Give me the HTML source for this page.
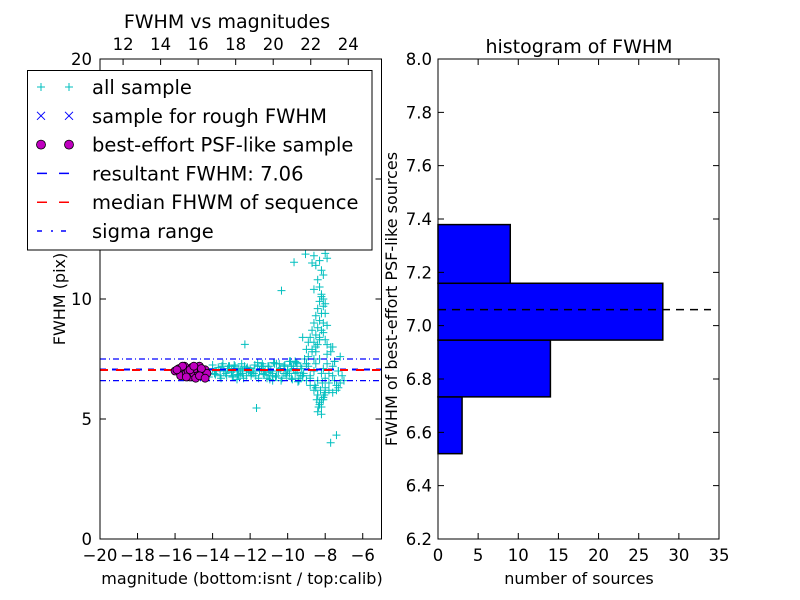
<!DOCTYPE html>
<html><head><meta charset="utf-8"><style>
html,body{margin:0;padding:0;background:#fff}
svg{display:block;font-family:"DejaVu Sans","Liberation Sans",sans-serif}
</style></head><body>
<svg id="fig" width="800" height="600" viewBox="0 0 800 600">
<rect width="800" height="600" fill="#fff"/>
<g id="left"></g>
<g id="right"></g>
<g id="legend"></g>
</svg>
<script>
const NS="http://www.w3.org/2000/svg";
// ---- data ----
const magAll=[-15.8,-15.5,-15.2,-15.0,-14.8,-14.6,-14.4,-14.2,-14.0,-13.8,-13.6,-13.5,-13.4,-13.3,-13.2,-13.0,-12.9,-12.8,-12.7,-12.6,-12.5,-12.4,-12.3,-12.2,-12.1,-12.0,-11.9,-11.8,-11.7,-11.6,-11.5,-11.4,-11.3,-11.2,-11.1,-11.0,-10.9,-10.8,-10.7,-10.6,-10.5,-10.4,-10.3,-10.2,-10.1,-10.0,-9.9,-9.8,-9.7,-9.6,-9.5,-9.4,-9.3,-9.2,-9.1,-9.0,-13.9,-13.1,-12.6,-12.2,-11.8,-11.4,-11.0,-10.6,-10.2,-9.8,-9.4,-9.0,-13.4,-12.9,-12.4,-11.9,-11.3,-10.8,-10.4,-9.9,-9.6,-9.2,
-8.9,-8.8,-8.7,-8.6,-8.5,-8.4,-8.3,-8.2,-8.1,-8.0,-7.9,-7.8,-7.7,-7.6,-7.5,-7.4,-7.3,-7.2,-8.9,-8.8,-8.6,-8.5,-8.4,-8.3,-8.2,-8.1,-8.0,-7.9,-7.8,-7.6,-7.5,-7.3,
-8.8,-8.7,-8.6,-8.5,-8.4,-8.3,-8.2,-8.1,-8.0,-7.9,-8.7,-8.6,-8.5,-8.4,-8.3,-8.2,-8.1,-8.0,-8.6,-8.5,-8.4,-8.3,-8.2,-8.1,-8.5,-8.4,-8.3,-8.2,-8.1,-8.0,-8.4,-8.3,-8.2,-8.1,-8.6,-8.3,-8.2,-8.0,-7.9,-7.7,-7.5,-7.2,-7.0,-7.4,-7.1,-7.6,-7.8,-8.9,-9.0,-9.2,
-11.66,-12.28,-10.33,-9.66,-9.05,-7.40,-7.71,-8.6,-8.3,-8.0,-8.2,-8.5,-7.9,-8.1,-8.4,-8.7,-8.25,-8.45,-8.15,-7.6,-7.3,-8.8,-8.35,-8.05,-8.55];
const fwhmAll=[7.0,7.1,6.9,7.0,7.2,6.8,7.0,6.9,7.1,7.0,6.8,7.2,7.0,6.9,7.1,7.0,6.8,7.2,7.0,7.1,6.9,7.0,7.2,6.8,7.0,7.1,6.9,7.0,6.8,7.2,7.0,7.1,6.9,7.0,6.7,7.2,7.0,6.9,7.3,6.8,7.0,7.1,6.7,7.2,6.9,7.0,7.4,6.7,7.1,6.9,7.3,6.6,7.2,6.8,7.5,6.6,6.9,7.2,6.8,7.1,6.9,7.2,6.8,7.3,6.9,7.2,6.7,7.3,7.0,7.1,6.9,7.0,7.2,6.8,7.1,6.9,7.4,6.8,
7.6,6.4,7.8,6.2,8.0,6.0,8.3,5.8,8.6,6.3,7.7,6.5,8.0,6.8,7.4,6.2,7.0,6.5,7.2,6.8,7.0,7.3,6.6,7.5,6.9,7.1,6.7,7.3,6.9,7.2,6.6,7.0,
8.4,8.7,9.0,9.3,9.6,9.9,10.2,10.0,9.4,8.9,7.9,8.2,8.5,8.8,9.1,9.4,9.7,8.3,7.5,7.8,8.1,8.4,8.7,9.0,6.3,6.0,5.7,5.5,5.9,6.1,5.3,5.6,5.2,5.8,10.4,10.5,10.1,9.8,8.1,7.8,7.4,7.6,6.6,6.4,6.8,8.0,6.2,8.2,7.9,8.4,
5.46,8.11,10.35,11.53,11.87,4.33,4.01,11.8,11.6,11.9,11.2,11.4,11.7,11.0,10.8,11.5,6.2,5.8,6.5,6.1,6.3,6.7,5.5,6.0,6.4];
const magBand=[-14.2,-14.0,-13.85,-13.7,-13.55,-13.45,-13.25,-13.15,-12.95,-12.85,-12.65,-12.45,-12.35,-12.15,-11.95,-11.75,-11.55,-11.35,-11.25,-11.05,-10.95,-10.75,-10.65,-10.45,-10.35,-10.15,-10.05,-9.85,-9.75,-9.55,-9.45,-9.25,-9.15,-9.0,-13.6,-13.0,-12.5,-12.0,-11.5,-11.0,-10.5,-10.0,-9.5,-9.3,-9.7,-10.8,-11.6,-12.7];
const fwhmBand=[6.75,7.25,6.85,7.15,6.7,7.3,6.8,7.2,6.75,7.25,6.85,7.3,6.7,7.15,6.8,7.25,6.7,7.3,6.85,7.2,6.65,7.35,6.75,7.3,6.6,7.25,6.8,7.4,6.65,7.35,6.55,7.1,6.9,7.3,7.05,6.95,7.05,6.95,7.05,6.95,7.0,7.05,6.95,6.8,7.2,6.6,7.35,6.65];
const magBest=[-16.0,-15.8,-15.7,-15.5,-15.4,-15.3,-15.2,-15.1,-15.0,-14.9,-14.8,-14.7,-14.6,-14.5,-14.4,-14.3,-15.6,-15.2,-14.9,-14.6,-15.4,-15.0,-14.7,-14.4,-15.9];
const fwhmBest=[7.0,7.1,6.8,7.2,6.9,7.0,6.75,7.15,6.9,7.1,6.8,7.2,7.0,6.85,7.05,6.9,7.2,7.05,6.7,7.1,6.75,7.2,6.8,6.7,7.05];
const resultFWHM=7.06, medianFWHM=7.04, sigmaLo=6.6, sigmaHi=7.5;
const binEdges=[6.52,6.733,6.946,7.159,7.379];
const binCounts=[3,14,28,9];
const xTicksBottom=[-20,-18,-16,-14,-12,-10,-8,-6];
const xTicksTop=[12,14,16,18,20,22,24];
const yTicksLeft=[0,5,10,15,20];
const yTicksRight=[6.2,6.4,6.6,6.8,7.0,7.2,7.4,7.6,7.8,8.0];
const xTicksHist=[0,5,10,15,20,25,30,35];
// ---- axes ----
const L={x0:100,x1:381.5,y0:59,y1:539};
const sx=v=>L.x0+(v+20)/15*(L.x1-L.x0);
const sy=v=>L.y1-v/20*(L.y1-L.y0);
const topOffset=30.77;
const sxTop=v=>sx(v-topOffset);
const R={x0:438,x1:719,y0:59,y1:539};
const hx=v=>R.x0+v/35*(R.x1-R.x0);
const hy=v=>R.y1-(v-6.2)/1.8*(R.y1-R.y0);
function el(tag,attrs,parent,txt){const e=document.createElementNS(NS,tag);for(const k in attrs)e.setAttribute(k,attrs[k]);if(txt!==undefined)e.textContent=txt;parent.appendChild(e);return e;}
const left=document.getElementById('left'),right=document.getElementById('right'),lg=document.getElementById('legend');
el('rect',{x:L.x0,y:L.y0,width:L.x1-L.x0,height:L.y1-L.y0,fill:'#fff'},left);
const clip=el('clipPath',{id:'lc'},left);el('rect',{x:L.x0,y:L.y0,width:L.x1-L.x0,height:L.y1-L.y0},clip);
const plot=el('g',{'clip-path':'url(#lc)'},left);
function plus(m,f){const x=sx(m),y=sy(f);
 const p=el('path',{d:`M${x-4},${y}h8M${x},${y-4}v8`,stroke:'#00bfbf','stroke-width':1},plot);
 
 }
for(let i=0;i<magAll.length;i++)plus(magAll[i],fwhmAll[i]);
for(let i=0;i<magBand.length;i++)plus(magBand[i],fwhmBand[i]);
let ln;
ln=el('line',{x1:L.x0,x2:L.x1,y1:sy(sigmaHi),y2:sy(sigmaHi),stroke:'#0000ff','stroke-width':1.2,'stroke-dasharray':'6,3,1,3'},plot);
ln=el('line',{x1:L.x0,x2:L.x1,y1:sy(sigmaLo),y2:sy(sigmaLo),stroke:'#0000ff','stroke-width':1.2,'stroke-dasharray':'6,3,1,3'},plot);
ln=el('line',{x1:L.x0,x2:L.x1,y1:sy(resultFWHM),y2:sy(resultFWHM),stroke:'#0000ff','stroke-width':2,'stroke-dasharray':'6,6'},plot);
ln=el('line',{x1:L.x0,x2:L.x1,y1:sy(medianFWHM),y2:sy(medianFWHM),stroke:'#ff0000','stroke-width':2,'stroke-dasharray':'8,8'},plot);
for(let i=0;i<magBest.length;i++){const c=el('circle',{cx:sx(magBest[i]),cy:sy(fwhmBest[i]),r:4,fill:'#bf00bf',stroke:'#000','stroke-width':0.8},plot);
 
 }
el('rect',{x:L.x0,y:L.y0,width:L.x1-L.x0,height:L.y1-L.y0,fill:'none',stroke:'#000','stroke-width':1},left);
const fs=16.5;
xTicksBottom.forEach(v=>{const x=sx(v);el('path',{d:`M${x},${L.y1}v-6`,stroke:'#000'},left);
 const t=el('text',{x:x,y:L.y1+22,'font-size':fs,'text-anchor':'middle'},left,'\u2212'+Math.abs(v));});
xTicksTop.forEach(v=>{const x=sxTop(v);el('path',{d:`M${x},${L.y0}v6`,stroke:'#000'},left);
 const t=el('text',{x:x,y:L.y0-9,'font-size':fs,'text-anchor':'middle'},left,String(v));});
yTicksLeft.forEach(v=>{const y=sy(v);el('path',{d:`M${L.x0},${y}h6M${L.x1},${y}h-6`,stroke:'#000'},left);
 const t=el('text',{x:L.x0-8,y:y+6,'font-size':fs,'text-anchor':'end'},left,String(v));});
let t;
t=el('text',{x:227,y:28,'font-size':19,'text-anchor':'middle'},left,'FWHM vs magnitudes');
t=el('text',{x:242,y:584,'font-size':16,'text-anchor':'middle'},left,'magnitude (bottom:isnt / top:calib)');
t=el('text',{x:0,y:0,'font-size':16,'text-anchor':'middle',transform:'translate(65,299) rotate(-90)'},left,'FWHM (pix)');
for(let i=0;i<binCounts.length;i++){const y1=hy(binEdges[i+1]),y0=hy(binEdges[i]);
 const r=el('rect',{x:R.x0,y:y1,width:hx(binCounts[i])-R.x0,height:y0-y1,fill:'#0000ff',stroke:'#000','stroke-width':1.5},right);
 
 }
ln=el('line',{x1:hx(0),x2:hx(34),y1:hy(resultFWHM),y2:hy(resultFWHM),stroke:'#000','stroke-width':1.5,'stroke-dasharray':'8,6'},right);
el('rect',{x:R.x0,y:R.y0,width:R.x1-R.x0,height:R.y1-R.y0,fill:'none',stroke:'#000'},right);
xTicksHist.forEach(v=>{const x=hx(v);el('path',{d:`M${x},${R.y1}v-6M${x},${R.y0}v6`,stroke:'#000'},right);
 const t=el('text',{x:x,y:R.y1+22,'font-size':fs,'text-anchor':'middle'},right,String(v));});
yTicksRight.forEach(v=>{const y=hy(v);el('path',{d:`M${R.x0},${y}h6M${R.x1},${y}h-6`,stroke:'#000'},right);
 const t=el('text',{x:R.x0-6,y:y+6,'font-size':fs,'text-anchor':'end'},right,v.toFixed(1));});
t=el('text',{x:579,y:53,'font-size':19,'text-anchor':'middle'},right,'histogram of FWHM');
t=el('text',{x:579,y:584,'font-size':16,'text-anchor':'middle'},right,'number of sources');
t=el('text',{x:0,y:0,'font-size':16,'text-anchor':'middle',transform:'translate(397,299) rotate(-90)'},right,'FWHM of best-effort PSF-like sources');
el('rect',{x:27.5,y:70.5,width:344.5,height:179.5,fill:'#fff',stroke:'#000'},lg);
const labels=['all sample','sample for rough FWHM','best-effort PSF-like sample','resultant FWHM: 7.06','median FHWM of sequence','sigma range'];
labels.forEach((s,i)=>{const y=87+i*28.8;
 if(i==0){[41,69].forEach(x=>el('path',{d:`M${x-4},${y}h8M${x},${y-4}v8`,stroke:'#00bfbf'},lg));}
 if(i==1){[41,69].forEach(x=>el('path',{d:`M${x-4},${y-4}l8,8M${x+4},${y-4}l-8,8`,stroke:'#0000ff'},lg));}
 if(i==2){[41,69].forEach(x=>el('circle',{cx:x,cy:y,r:4.5,fill:'#bf00bf',stroke:'#000','stroke-width':0.8},lg));}
 if(i==3){el('path',{d:`M37,${y}h10M59,${y}h10`,stroke:'#0000ff','stroke-width':1.5},lg);}
 if(i==4){el('path',{d:`M37,${y}h10M59,${y}h10`,stroke:'#ff0000','stroke-width':1.5},lg);}
 if(i==5){el('path',{d:`M37,${y}h5M51,${y}h2M61,${y}h5`,stroke:'#0000ff','stroke-width':1.5},lg);}
 const tx=el('text',{x:92,y:y+7,'font-size':19.5},lg,s);
 
 
});
</script>
</body></html>
